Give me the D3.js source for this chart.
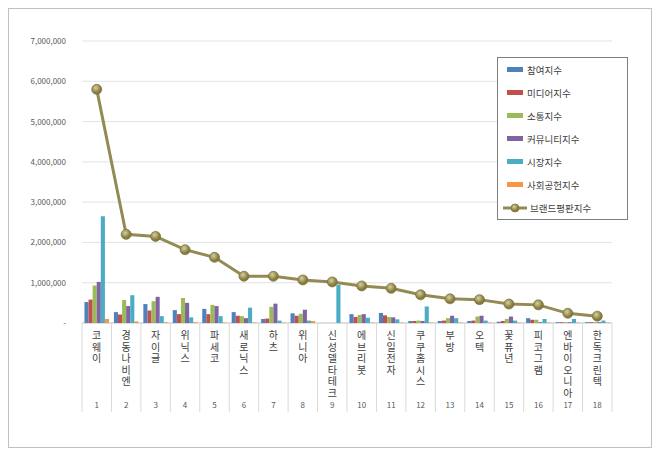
<!DOCTYPE html><html><head><meta charset="utf-8"><script src="https://d3js.org/d3.v7.min.js"></script>
<style>body{margin:0;background:#fff}svg{font-family:"Noto Sans CJK KR","Noto Sans",sans-serif}</style></head><body><svg id="c" width="660" height="456"></svg><script>
const categories=["코웨이","경동나비엔","자이글","위닉스","파세코","새로닉스","하츠","위니아","신성델타테크","에브리봇","신일전자","쿠쿠홈시스","부방","오텍","꽃퓨년","피코그램","엔바이오니아","한독크린텍"];
const ranks=d3.range(1,19).map(String);
const seriesNames=["참여지수","미디어지수","소통지수","커뮤니티지수","시장지수","사회공헌지수"];
const 참여=[520000,270000,470000,320000,350000,270000,100000,240000,0,220000,250000,50000,50000,50000,30000,120000,20000,20000];
const 미디어=[580000,210000,310000,220000,220000,180000,110000,180000,0,150000,190000,50000,60000,60000,50000,80000,20000,20000];
const 소통=[930000,570000,540000,620000,450000,170000,400000,230000,0,200000,150000,60000,120000,160000,100000,80000,20000,20000];
const 커뮤니티=[1020000,420000,650000,500000,420000,120000,480000,330000,0,220000,140000,50000,180000,180000,160000,20000,20000,20000];
const 시장=[2650000,690000,170000,140000,170000,380000,60000,60000,950000,130000,90000,410000,120000,60000,60000,100000,100000,60000];
const 사회공헌=[100000,40000,20000,20000,10000,10000,10000,50000,0,10000,10000,10000,10000,10000,10000,10000,10000,10000];
const 브랜드=[5800000,2200000,2150000,1820000,1630000,1160000,1160000,1070000,1020000,920000,860000,700000,600000,580000,470000,450000,240000,170000];
const yTicks=[0,1000000,2000000,3000000,4000000,5000000,6000000,7000000];
const colors=["#4F81BD","#C0504D","#9BBB59","#8064A2","#4BACC6","#F79646"];
const series=[참여,미디어,소통,커뮤니티,시장,사회공헌];
const svg=d3.select("#c");
svg.append("rect").attr("x",8.5).attr("y",8.5).attr("width",643).attr("height",439).attr("fill","#fff").attr("stroke","#bfbfbf");
const L=82,R=612,T=41,B=323;
const x=d3.scaleBand().domain(ranks).range([L,R]);
const y=d3.scaleLinear().domain([0,7000000]).range([B,T]);
const g=svg.append("g");
yTicks.forEach(t=>{g.append("line").attr("x1",L).attr("x2",R).attr("y1",y(t)).attr("y2",y(t)).attr("stroke",t===0?"#bfbfbf":"#e3e3e3");
g.append("text").attr("x",66).attr("y",y(t)+3).attr("text-anchor","end").attr("font-size",8).attr("fill","#595959").text(t===0?"-":d3.format(",")(t));});
d3.range(19).forEach(i=>{const xx=i<18?x(ranks[i]):R;g.append("line").attr("x1",xx).attr("x2",xx).attr("y1",B).attr("y2",412).attr("stroke","#d9d9d9");});
const inner=d3.scaleBand().domain(d3.range(6)).range([0,x.bandwidth()]).paddingOuter(0.6);
series.forEach((s,si)=>{g.selectAll(null).data(s).enter().append("rect").attr("x",(d,i)=>x(ranks[i])+inner(si)).attr("width",inner.bandwidth()).attr("y",d=>y(d)).attr("height",d=>B-y(d)).attr("fill",colors[si]);});
const cx=i=>x(ranks[i])+x.bandwidth()/2;
g.append("path").datum(브랜드).attr("fill","none").attr("stroke","#948A54").attr("stroke-width",3).attr("d",d3.line().x((d,i)=>cx(i)).y(d=>y(d)));
const grad=svg.append("defs").append("radialGradient").attr("id","mg").attr("cx","40%").attr("cy","35%");
grad.append("stop").attr("offset","0%").attr("stop-color","#d6cfa0");grad.append("stop").attr("offset","100%").attr("stop-color","#857a3c");
g.selectAll(null).data(브랜드).enter().append("circle").attr("cx",(d,i)=>cx(i)).attr("cy",d=>y(d)).attr("r",5).attr("fill","url(#mg)").attr("stroke","#7a7038").attr("stroke-width",0.7);
categories.forEach((c,i)=>{[...c].forEach((ch,k)=>g.append("text").attr("font-size",10).attr("fill","#404040").attr("text-anchor","middle").attr("x",cx(i)).attr("y",339+k*11.5).text(ch));
g.append("text").attr("x",cx(i)).attr("y",408).attr("text-anchor","middle").attr("font-size",8).attr("fill","#595959").text(ranks[i]);});
const lg=svg.append("g");
lg.append("rect").attr("x",497.5).attr("y",57.5).attr("width",130).attr("height",162).attr("fill","#fff").attr("stroke","#7f7f7f");
seriesNames.forEach((n,i)=>{const yy=70+i*23;lg.append("rect").attr("x",507).attr("y",yy-3).attr("width",16).attr("height",5).attr("fill",colors[i]);
lg.append("text").attr("x",527).attr("y",yy+3.5).attr("font-size",9.5).attr("fill","#404040").text(n);});
const ly=70+6*23;
lg.append("line").attr("x1",503).attr("x2",527).attr("y1",ly).attr("y2",ly).attr("stroke","#948A54").attr("stroke-width",3);
lg.append("circle").attr("cx",515).attr("cy",ly).attr("r",4).attr("fill","url(#mg)").attr("stroke","#7a7038").attr("stroke-width",0.7);
lg.append("text").attr("x",530).attr("y",ly+3.5).attr("font-size",9.5).attr("fill","#404040").text("브랜드평판지수");
</script></body></html>
